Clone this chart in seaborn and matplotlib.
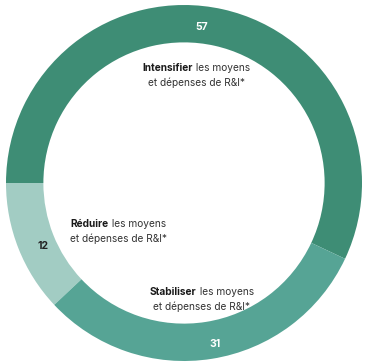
import seaborn as sns
import matplotlib.pyplot as plt
import numpy as np

# données du graphique
values = [57, 12, 31]
bold_words = ['Intensifier', 'Réduire', 'Stabiliser']
rest_line1 = ' les moyens'
line2 = 'et dépenses de R&I*'
colors = ['#3e8d75', '#a2ccc3', '#56a495']
num_colors = ['white', '#222222', 'white']

sns.set_theme(style='white')
plt.rcParams['font.family'] = ['Inter', 'DejaVu Sans']

fig = plt.figure(figsize=(3.69, 3.63), dpi=100)
ax = fig.add_axes([0, 0, 1, 1])

# début : le segment 57 se termine à gauche (180°)
start = 180 - values[0] / sum(values) * 360
wedges, _, autotexts = ax.pie(
    values, colors=colors, startangle=start,
    wedgeprops=dict(width=0.21, linewidth=0), radius=1,
    autopct=lambda p: f'{p * sum(values) / 100:.0f}', pctdistance=0.895,
    textprops=dict(fontsize=7.5, fontweight='bold'))

# emplacement des nombres dans l'anneau
num_pos = [(0.10, 0.875), (-0.79, -0.355), (0.175, -0.905)]
for t, c, p in zip(autotexts, num_colors, num_pos):
    t.set_color(c)
    t.set_position(p)

ax.set_aspect('equal')
ax.set_xlim(-184 / 178, 185 / 178)
ax.set_ylim(-180 / 178, 183 / 178)
ax.axis('off')

# positions des libellés (centre, en unités du graphique)
label_pos = [(0.07, 0.605), (-0.37, -0.27), (0.10, -0.655)]
dy = 14.5 / 178
fs = 7.3

fig.canvas.draw()
renderer = fig.canvas.get_renderer()
px_per_unit = ax.transData.transform((1, 0))[0] - ax.transData.transform((0, 0))[0]

for (x, y), bw in zip(label_pos, bold_words):
    tb = ax.text(0, 0, bw, fontsize=fs, fontweight='bold', color='#1a1a1a',
                 ha='left', va='center')
    tr = ax.text(0, 0, rest_line1, fontsize=fs, color='#333333',
                 ha='left', va='center')
    wb = tb.get_window_extent(renderer).width / px_per_unit
    wr = tr.get_window_extent(renderer).width / px_per_unit
    x0 = x - (wb + wr) / 2
    tb.set_position((x0, y + dy / 2))
    tr.set_position((x0 + wb, y + dy / 2))
    ax.text(x, y - dy / 2, line2, fontsize=fs, color='#333333',
            ha='center', va='center')

fig.savefig('out.png', dpi=100)
